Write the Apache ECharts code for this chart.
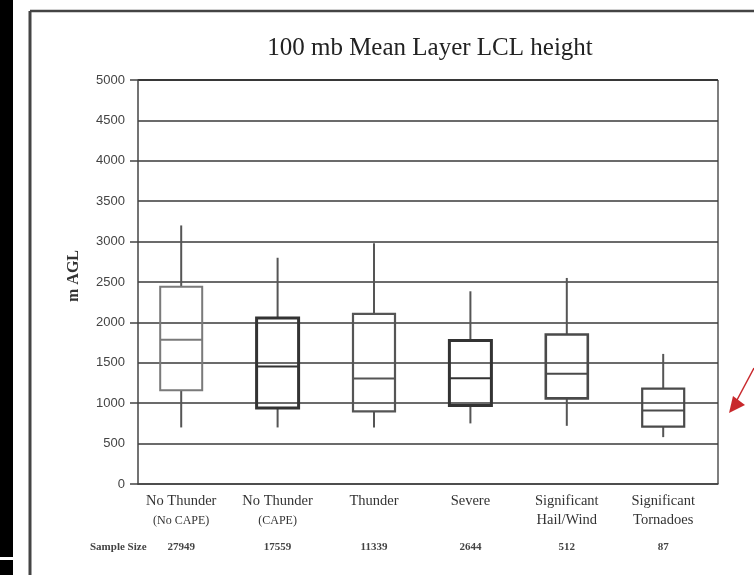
<!DOCTYPE html>
<html><head><meta charset="utf-8">
<script src="https://cdn.jsdelivr.net/npm/echarts@6/dist/echarts.min.js"></script>
<style>html,body{margin:0;padding:0;background:#fff}#c{width:754px;height:575px}</style>
</head><body><div id="c"></div>
<script>
// ---- data ----
const categories = ['No Thunder|(No CAPE)', 'No Thunder|(CAPE)', 'Thunder|', 'Severe|', 'Significant|Hail/Wind', 'Significant|Tornadoes'];
const sampleSizes = ['27949', '17559', '11339', '2644', '512', '87'];
const whiskerLow  = [700, 700, 700, 750, 720, 580];
const q1          = [1160, 940, 900, 970, 1060, 710];
const medians     = [1785, 1455, 1305, 1310, 1365, 910];
const q3          = [2440, 2055, 2105, 1775, 1850, 1180];
const whiskerHigh = [3200, 2800, 2980, 2385, 2550, 1610];
const yTicks = [0, 500, 1000, 1500, 2000, 2500, 3000, 3500, 4000, 4500, 5000];

// styles (kept separate from data)
const boxStroke = ['#7a7a7a', '#333', '#555', '#333', '#4a4a4a', '#4a4a4a'];
const boxLineW  = [2, 3, 2.2, 3, 2.6, 2.2];

const serif = '"Liberation Serif", "DejaVu Serif", serif';
const chart = echarts.init(document.getElementById('c'));

const seriesData = categories.map((c, i) => [i, whiskerLow[i], q1[i], medians[i], q3[i], whiskerHigh[i]]);

const option = {
  backgroundColor: '#fff',
  animation: false,
  title: {
    text: '100 mb Mean Layer LCL height',
    left: 425, top: 31, textAlign: 'center',
    textStyle: { fontFamily: serif, fontSize: 25, fontWeight: 'normal', color: '#222' }
  },
  grid: [
    { left: 138, right: 36, top: 80, bottom: 91 },
    { left: 133, right: 42.6, top: 80, bottom: 91 }
  ],
  xAxis: [{
    gridIndex: 0, type: 'category', data: categories,
    axisLine: { lineStyle: { color: '#444', width: 1.5 } },
    axisTick: { show: false }, axisLabel: { show: false }, splitLine: { show: false }
  }, {
    gridIndex: 1, type: 'category', data: categories,
    axisLine: { show: false },
    axisTick: { alignWithLabel: true, length: 6, lineStyle: { color: '#444', width: 1.5 } },
    axisLabel: {
      margin: 8, interval: 0, lineHeight: 19,
      formatter: v => { const p = v.split('|'); return '{a|' + p[0] + '}\n' + (p[1] ? (p[1].startsWith('(') ? '{b|' + p[1] + '}' : '{a|' + p[1] + '}') : '{a| }'); },
      rich: {
        a: { fontFamily: serif, fontSize: 14.5, color: '#333', lineHeight: 19 },
        b: { fontFamily: serif, fontSize: 12, color: '#333', lineHeight: 19 }
      }
    },
    splitLine: { show: false }
  }, {
    gridIndex: 1, type: 'category', position: 'bottom', offset: 58,
    data: sampleSizes,
    axisLine: { show: false }, axisTick: { show: false },
    axisLabel: { interval: 0, margin: 0, fontFamily: serif, fontSize: 11, fontWeight: 'bold', color: '#444' }
  }],
  yAxis: [{
    gridIndex: 0, type: 'value', min: 0, max: 5000, interval: 500,
    axisLine: { show: true, lineStyle: { color: '#444', width: 1.5 } },
    axisTick: { show: false },
    axisLabel: { margin: 13, fontFamily: '"Liberation Sans", Arial, sans-serif', fontSize: 13, color: '#444',
      formatter: v => yTicks.includes(v) ? String(v) : '' },
    splitLine: { lineStyle: { color: '#3a3a3a', width: 1.5 } }
  }, {
    gridIndex: 0, type: 'value', min: 0, max: 5000, interval: 1000, position: 'left',
    axisLine: { show: false }, axisLabel: { show: false }, splitLine: { show: false },
    axisTick: { show: true, length: 8, lineStyle: { color: '#444', width: 1.5 } }
  }, {
    gridIndex: 1, type: 'value', min: 0, max: 5000, show: false
  }],
  graphic: [
    { type: 'rect', left: 0, top: 0, shape: { width: 13, height: 557 }, style: { fill: '#000' }, silent: true },
    { type: 'rect', left: 0, top: 560, shape: { width: 13, height: 15 }, style: { fill: '#000' }, silent: true },
    { type: 'line', shape: { x1: 30, y1: 11, x2: 754, y2: 11 }, style: { stroke: '#444', lineWidth: 2.5 }, silent: true },
    { type: 'line', shape: { x1: 30, y1: 11, x2: 30, y2: 575 }, style: { stroke: '#444', lineWidth: 3 }, silent: true },
    { type: 'line', shape: { x1: 718, y1: 80, x2: 718, y2: 484 }, style: { stroke: '#555', lineWidth: 1.5 }, silent: true },
    { type: 'line', shape: { x1: 138, y1: 80, x2: 718, y2: 80 }, style: { stroke: '#333', lineWidth: 2 }, silent: true },
    { type: 'text', x: 74, y: 276, rotation: Math.PI / 2,
      style: { text: 'm AGL', font: 'bold 16px ' + serif, fill: '#333', textAlign: 'center', textVerticalAlign: 'middle' }, silent: true },
    { type: 'text', left: 90, top: 542, style: { text: 'Sample Size', font: 'bold 11px ' + serif, fill: '#444' }, silent: true },
    { type: 'line', shape: { x1: 754, y1: 368, x2: 737, y2: 400 }, style: { stroke: '#c8282c', lineWidth: 1.5 }, silent: true },
    { type: 'polygon', shape: { points: [[729, 413], [733, 396], [745, 405]] }, style: { fill: '#c8282c' }, silent: true }
  ],
  series: [{
    type: 'custom',
    xAxisIndex: 1, yAxisIndex: 2,
    data: seriesData,
    encode: { x: 0, y: [1, 2, 3, 4, 5] },
    renderItem: (params, api) => {
      const idx = api.value(0);
      const i = params.dataIndex;
      const w = 42;
      const pLow = api.coord([idx, api.value(1)]);
      const pQ1 = api.coord([idx, api.value(2)]);
      const pMed = api.coord([idx, api.value(3)]);
      const pQ3 = api.coord([idx, api.value(4)]);
      const pHigh = api.coord([idx, api.value(5)]);
      const x = pMed[0];
      const wst = { stroke: '#555', lineWidth: 2 };
      return {
        type: 'group',
        children: [
          { type: 'line', shape: { x1: x, y1: pHigh[1], x2: x, y2: pQ3[1] }, style: wst },
          { type: 'line', shape: { x1: x, y1: pQ1[1], x2: x, y2: pLow[1] }, style: wst },
          { type: 'rect', shape: { x: x - w / 2, y: pQ3[1], width: w, height: pQ1[1] - pQ3[1] }, style: { fill: 'rgba(255,255,255,0)', stroke: boxStroke[i], lineWidth: boxLineW[i] } },
          { type: 'line', shape: { x1: x - w / 2, y1: pMed[1], x2: x + w / 2, y2: pMed[1] }, style: { stroke: boxStroke[i], lineWidth: 2 } }
        ]
      };
    }
  }]
};
chart.setOption(option);
</script>
</body></html>
